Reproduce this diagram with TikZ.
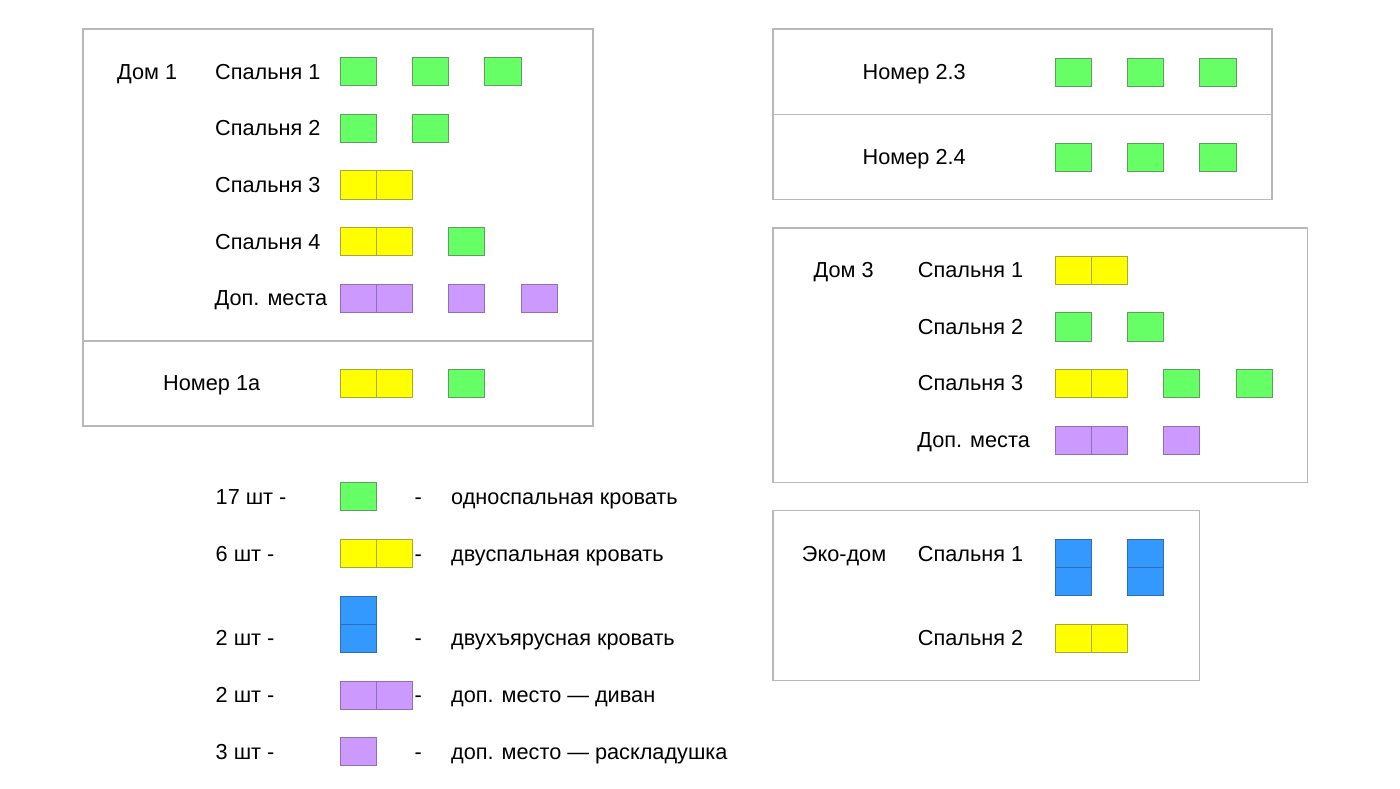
\documentclass[tikz,border=0pt]{standalone}
\usepackage{fontspec}
\setmainfont{Liberation Sans}
\usepackage{tikz}

\definecolor{framegray}{HTML}{B8B8B8}
\definecolor{bedgreen}{HTML}{66FF66}
\definecolor{greenline}{HTML}{5E9E5E}
\definecolor{bedyellow}{HTML}{FFFF00}
\definecolor{yellowline}{HTML}{A8A838}
\definecolor{bedblue}{HTML}{3399FF}
\definecolor{blueline}{HTML}{2E6FB0}
\definecolor{bedviolet}{HTML}{CC99FF}
\definecolor{violetline}{HTML}{9070B0}

\begin{document}
\begin{tikzpicture}[x=1pt, y=-1pt,
	frame/.style={draw=framegray, line width=1.1pt},
	single/.style={draw=greenline, fill=bedgreen, line width=0.9pt},
	twin/.style={draw=yellowline, fill=bedyellow, line width=0.9pt},
	bunk/.style={draw=blueline, fill=bedblue, line width=0.9pt},
	extra/.style={draw=violetline, fill=bedviolet, line width=0.9pt},
	lbl/.style={anchor=base west, inner sep=0pt, font=\fontsize{21.7}{26}\selectfont}]
	%\draw[help lines] (0,0) grid[step=100] (1400,788);
	\useasboundingbox (0,0) rectangle (1400,788);

	% Дом 1
	\draw[frame] (83,29) rectangle (593,426);
	\draw[frame] (83,341) -- (593,341);
	\node[lbl] (dom1) at (117,79) {Дом 1};
	\node[lbl] (d1s1) at (215,79) {Спальня 1};
	\node[lbl] (d1s2) at (215,135.7) {Спальня 2};
	\node[lbl] (d1s3) at (215,192.4) {Спальня 3};
	\node[lbl] (d1s4) at (215,249.2) {Спальня 4};
	\node[lbl] (d1dop) at (214.5,305.9) {Доп. места};
	\node[lbl] (n1a) at (163,390.9) {Номер 1а};
	\foreach \k in {0,2,4} \draw[single] ({340+36.2*\k},57.3) rectangle ++(36.2,28.3);
	\foreach \k in {0,2} \draw[single] ({340+36.2*\k},114) rectangle ++(36.2,28.3);
	\foreach \k in {0,1} \draw[twin] ({340+36.2*\k},170.7) rectangle ++(36.2,28.3);
	\foreach \k in {0,1} \draw[twin] ({340+36.2*\k},227.5) rectangle ++(36.2,28.3);
	\draw[single] (448.6,227.5) rectangle ++(36.2,28.3);
	\foreach \k in {0,1,3,5} \draw[extra] ({340+36.2*\k},284.2) rectangle ++(36.2,28.3);
	\foreach \k in {0,1} \draw[twin] ({340+36.2*\k},369.2) rectangle ++(36.2,28.3);
	\draw[single] (448.6,369.2) rectangle ++(36.2,28.3);

	% Номера 2.3 и 2.4
	\draw[frame] (773,29) rectangle (1272,199.3);
	\draw[frame] (773,114.7) -- (1272,114.7);
	\node[lbl] (n23) at (862.5,79.6) {Номер 2.3};
	\node[lbl] (n24) at (862.5,164.6) {Номер 2.4};
	\foreach \k in {0,2,4} {
		\draw[single] ({1055+36.2*\k},58) rectangle ++(36.2,28.3);
		\draw[single] ({1055+36.2*\k},143) rectangle ++(36.2,28.3);
	}

	% Дом 3
	\draw[frame] (773,228) rectangle (1307.7,482.3);
	\node[lbl] (dom3) at (813.4,277.7) {Дом 3};
	\node[lbl] (d3s1) at (917.7,277.7) {Спальня 1};
	\node[lbl] (d3s2) at (917.7,334.4) {Спальня 2};
	\node[lbl] (d3s3) at (917.7,390.9) {Спальня 3};
	\node[lbl] (d3dop) at (917.2,447.6) {Доп. места};
	\foreach \k in {0,1} \draw[twin] ({1055+36.2*\k},256) rectangle ++(36.2,28.3);
	\foreach \k in {0,2} \draw[single] ({1055+36.2*\k},312.7) rectangle ++(36.2,28.3);
	\foreach \k in {0,1} \draw[twin] ({1055+36.2*\k},369.2) rectangle ++(36.2,28.3);
	\foreach \k in {3,5} \draw[single] ({1055+36.2*\k},369.2) rectangle ++(36.2,28.3);
	\foreach \k in {0,1,3} \draw[extra] ({1055+36.2*\k},426) rectangle ++(36.2,28.3);

	% Эко-дом
	\draw[frame] (773,510.5) rectangle (1199.3,680.7);
	\node[lbl] (eco) at (801.7,561.5) {Эко-дом};
	\node[lbl] (ecos1) at (917.7,561.5) {Спальня 1};
	\node[lbl] (ecos2) at (917.7,645.5) {Спальня 2};
	\foreach \k in {0,2} {
		\draw[bunk] ({1055+36.2*\k},539) rectangle ++(36.2,28.3);
		\draw[bunk] ({1055+36.2*\k},567.3) rectangle ++(36.2,28.3);
	}
	\foreach \k in {0,1} \draw[twin] ({1055+36.2*\k},624) rectangle ++(36.2,28.3);

	% легенда
	\node[lbl] (q1) at (215.5,504.2) {17 шт -};
	\node[lbl] (q2) at (215.5,561) {6 шт -};
	\node[lbl] (q3) at (215.5,645.7) {2 шт -};
	\node[lbl] (q4) at (215.5,702.3) {2 шт -};
	\node[lbl] (q5) at (215.5,759) {3 шт -};
	\foreach \y/\n in {504.2/a, 561/b, 645.7/c, 702.3/d, 759/e}
		\node[lbl] (dash\n) at (414.5,\y) {-};
	\node[lbl] (t1) at (451,504.2) {односпальная кровать};
	\node[lbl] (t2) at (451,561) {двуспальная кровать};
	\node[lbl] (t3) at (451,645.7) {двухъярусная кровать};
	\node[lbl] (t4) at (451,702.3) {доп. место — диван};
	\node[lbl] (t5) at (451,759) {доп. место — раскладушка};
	\draw[single] (340,482.5) rectangle ++(36.2,28.3);
	\foreach \k in {0,1} \draw[twin] ({340+36.2*\k},539.3) rectangle ++(36.2,28.3);
	\draw[bunk] (340,596) rectangle ++(36.2,28.3);
	\draw[bunk] (340,624.3) rectangle ++(36.2,28.3);
	\foreach \k in {0,1} \draw[extra] ({340+36.2*\k},681) rectangle ++(36.2,28.3);
	\draw[extra] (340,737.5) rectangle ++(36.2,28.3);
\end{tikzpicture}
\end{document}
